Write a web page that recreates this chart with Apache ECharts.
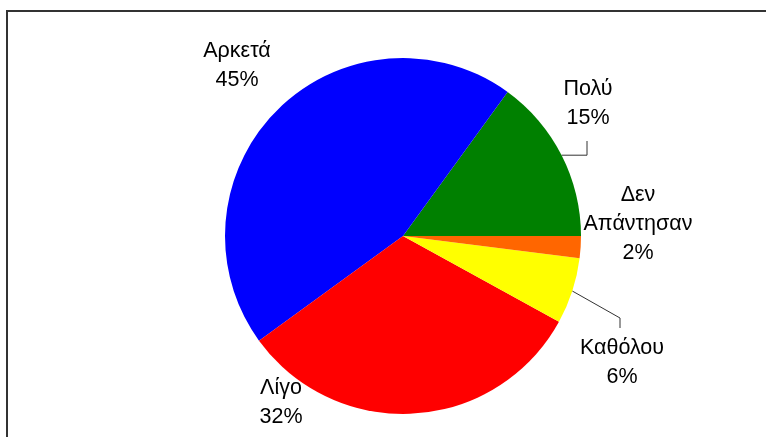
<!DOCTYPE html>
<html>
<head>
<meta charset="utf-8">
<script src="https://cdn.jsdelivr.net/npm/echarts@6/dist/echarts.min.js"></script>
<style>
  html, body { margin: 0; padding: 0; background: #fff; }
</style>
</head>
<body>
<div id="myChart" style="width:766px;height:437px;"></div>
<script>
// data
var categories = ['Πολύ', 'Αρκετά', 'Λίγο', 'Καθόλου', 'Δεν Απάντησαν'];
var values = [15, 45, 32, 6, 2];
var colors = ['#008000', '#0000ff', '#ff0000', '#ffff00', '#ff6600'];

// where each label sits (text block centre)
var labelPos = [[588, 104], [237, 66], [281, 403], [622, 363], [638, 224]];

var myChart = echarts.init(document.getElementById('myChart'));

var option = {
  backgroundColor: '#fff',
  animation: false,
  // frame round the plot, runs off the right / bottom edge
  graphic: [{
    type: 'rect',
    shape: { x: 7, y: 11, width: 800, height: 500 },
    style: { fill: 'none', stroke: '#333', lineWidth: 2 },
    silent: true
  }],
  series: [{
    type: 'pie',
    center: [403, 236],
    radius: 178,
    startAngle: 0,
    clockwise: false,
    percentPrecision: 0,
    data: categories.map(function (c, i) {
      return { name: c, value: values[i], itemStyle: { color: colors[i] } };
    }),
    itemStyle: { borderWidth: 0 },
    label: {
      show: true,
      position: 'outside',
      fontFamily: 'Liberation Sans, Arial, sans-serif',
      fontSize: 21.5,
      lineHeight: 29,
      color: '#000',
      align: 'center',
      formatter: function (p) {
        return p.name.replace(' ', '\n') + '\n' + p.percent + '%';
      }
    },
    labelLine: {
      show: true,
      length: 10,
      length2: 10,
      lineStyle: { color: '#333', width: 1 }
    },
    labelLayout: function (params) {
      var i = params.dataIndex;
      var out = {
        x: labelPos[i][0],
        y: labelPos[i][1],
        align: 'center',
        verticalAlign: 'middle'
      };
      var s = params.labelLinePoints ? params.labelLinePoints[0] : null;
      if (i === 0 && s) {
        out.labelLinePoints = [[s[0], s[1]], [587, s[1]], [587, 141]];
      } else if (i === 3 && s) {
        out.labelLinePoints = [[s[0], s[1]], [620, 318], [620, 328]];
      } else {
        out.labelLinePoints = s ? [[s[0], s[1]], [s[0], s[1]], [s[0], s[1]]] : undefined;
      }
      return out;
    }
  }]
};

myChart.setOption(option);
window.onresize = myChart.resize;
</script>
</body>
</html>
